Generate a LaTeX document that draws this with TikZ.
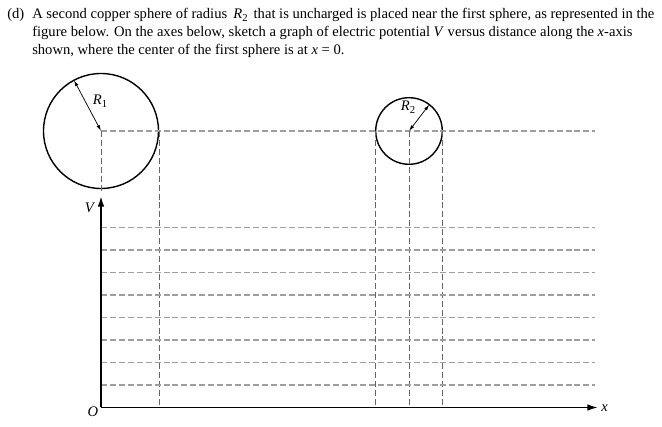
\documentclass[tikz,border=0pt]{standalone}
\usepackage{fontspec}
\setmainfont{Liberation Serif}
\usetikzlibrary{arrows.meta}

\newcommand{\ital}[1]{\textit{#1}}
\newcommand{\lowsub}[1]{\raisebox{-0.4ex}{\footnotesize #1}}

\begin{document}
\begin{tikzpicture}[x=0.75pt,y=-0.75pt,
  gridline/.style={dash pattern=on 4.5pt off 2.2pt, black!38, line width=0.8pt},
  dropline/.style={dash pattern=on 4.5pt off 2.2pt, black!60, line width=0.75pt},
  sphere/.style={line width=1.05pt},
  axis/.style={line width=1.3pt, -{Latex[length=8pt,width=5pt]}},
  radius/.style={line width=0.55pt, {Latex[length=4.5pt,width=2.6pt]}-{Latex[length=4.5pt,width=2.6pt]}},
  txt/.style={anchor=base west, inner sep=0pt, font=\fontsize{10.95}{13}\selectfont},
  lab/.style={inner sep=0pt, font=\fontsize{10.95}{13}\selectfont}]

\useasboundingbox (0,0) rectangle (662,427);

% question text
\node [txt] (partd) at (7,19) {(d)};
\node [txt] (line1) at (32,19) {A second copper sphere of radius \,\ital{R}\lowsub{2}\, that is uncharged is placed near the first sphere, as represented in the};
\node [txt] (line2) at (32,37) {figure below. On the axes below, sketch a graph of electric potential \ital{V} versus distance along the \ital{x}-axis};
\node [txt] (line3) at (32,54.5) {shown, where the center of the first sphere is at \ital{x} = 0.};

\coordinate (c1) at (101,131);
\coordinate (c2) at (409,131);
\coordinate (O) at (101,407.5);
\coordinate (Vtip) at (101,196);
\coordinate (xtip) at (598,407.5);

% spheres
\draw [sphere] (c1) circle (57.5);
\draw [sphere] (c2) circle (33.3);
\path (c1) ++(242:57.5) coordinate (r1end);
\path (c2) ++(307.6:33.3) coordinate (r2end);
\draw [radius] (c1) -- (r1end);
\draw [radius] (c2) -- (r2end);
\node [lab] (R1lab) at (100,101) {\ital{R}\lowsub{1}};
\node [lab] (R2lab) at (408,107) {\ital{R}\lowsub{2}};

%  dashed guides:
\draw [gridline] (c1) -- (595,131);
\draw [dropline] (c1) -- (101,193);
\draw [dropline] (159,131) -- (159,407.5);
\draw [dropline] (375.5,131) -- (375.5,407.5);
\draw [dropline] (c2) -- (409,407.5);
\draw [dropline] (442,131) -- (442,407.5);

\draw [gridline] (101,227.5)--(595,227.5);
\draw [gridline] (101,250)--(595,250);
\draw [gridline] (101,272.5)--(595,272.5);
\draw [gridline] (101,295)--(595,295);
\draw [gridline] (101,317.5)--(595,317.5);
\draw [gridline] (101,340)--(595,340);
\draw [gridline] (101,362.5)--(595,362.5);
\draw [gridline] (101,385)--(595,385);

% axes
\draw [axis] (O) -- (Vtip);
\draw [axis] (O) -- (xtip);
\node [lab] (Vlab) at (90,208) {\ital{V}};
\node [lab] (Olab) at (93,412) {\ital{O}};
\node [lab] (xlab) at (604.5,408) {\ital{x}};

\end{tikzpicture}
\end{document}
